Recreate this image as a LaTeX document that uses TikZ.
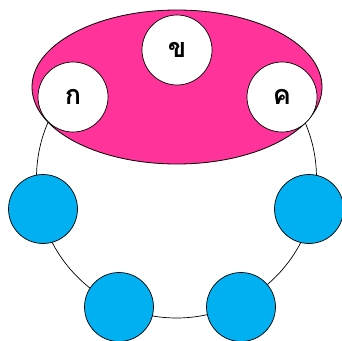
\documentclass[tikz,border=0pt]{standalone}
\usepackage{fontspec}
\usepackage{tikz}
\usepackage{xcolor}
\usetikzlibrary{positioning, shapes.geometric}
\newfontfamily\thaifont[Script=Thai]{Loma}
\definecolor{HotPink}{RGB}{255, 51, 153}
\definecolor{SkyBlue}{RGB}{0, 176, 240}

\begin{document}
\begin{tikzpicture}[
    x=1pt, y=-1pt,
    ring/.style={circle, draw=black, line width=0.7pt, minimum size=280pt, inner sep=0pt},
    group/.style={ellipse, draw=black, line width=0.8pt, fill=HotPink, minimum width=290pt, minimum height=154pt, inner sep=0pt},
    member/.style={circle, draw=black, line width=0.7pt, fill=white, minimum size=70pt, inner sep=0pt, font=\thaifont\bfseries\fontsize{27}{27}\selectfont},
    other/.style={circle, draw=black, line width=0.7pt, fill=SkyBlue, minimum size=69pt, inner sep=0pt}
]
\useasboundingbox (0,0) rectangle (342,340);

% Big ring behind everything
\node[ring] (ring) at (176.5, 178) {};

% Pink group with its three members
\node[group] (grp) at (177, 87) {};
\node[member] (ko) at (73, 97) {ก};
\node[member] (kho) at (177, 50) {ข};
\node[member] (kho2) at (282, 97) {ค};

% Blue circles on the ring
\node[other] (left) at (43, 209) {};
\node[other] (right) at (309, 209) {};
\node[other] (botleft) at (119, 307) {};
\node[other] (botright) at (241, 307) {};

\end{tikzpicture}
\end{document}
